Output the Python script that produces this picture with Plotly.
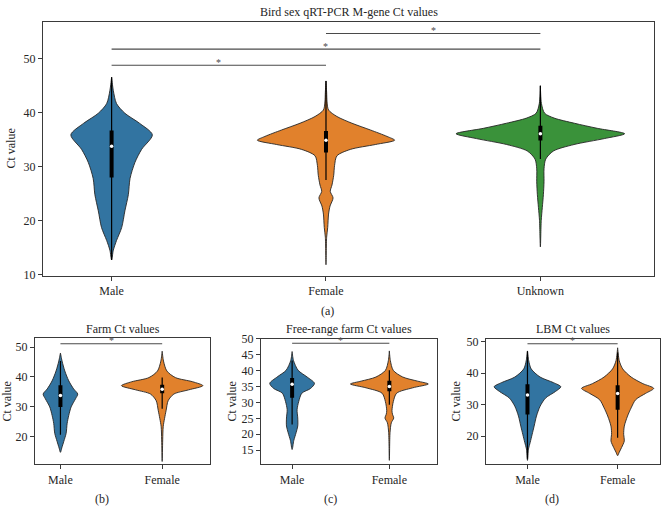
import plotly.graph_objects as go

# ---------------- data ----------------
main_categories = ["Male", "Female", "Unknown"]
sub_categories = ["Male", "Female"]

# violin density profiles: Ct values (bottom tip -> top tip) and half widths (category units)
main_male_ct = [12.7, 14.5, 16.3, 18.7, 21.8, 24.8, 27.8, 30.8, 33.2, 35.9, 38.05, 39.9, 41.7, 44.1, 46.6]
main_male_hw = [0.0, 0.008, 0.023, 0.047, 0.062, 0.078, 0.086, 0.109, 0.14, 0.19, 0.13, 0.062, 0.023, 0.008, 0.0]
main_female_ct = [11.8, 16.9, 18.7, 21.2, 22.7, 24.2, 25.4, 26.6, 28.4, 30.2, 32.0, 33.2, 34.1, 34.9, 35.6, 36.8, 38.05, 39.3, 40.5, 42.0, 43.8, 45.9]
main_female_hw = [0.0, 0.003, 0.008, 0.012, 0.019, 0.033, 0.02, 0.028, 0.036, 0.04, 0.051, 0.114, 0.23, 0.32, 0.285, 0.207, 0.121, 0.051, 0.012, 0.005, 0.003, 0.0]
main_unknown_ct = [15.1, 20.0, 22.4, 24.8, 27.2, 29.6, 31.4, 32.9, 34.1, 35.2, 36.1, 37.1, 38.05, 39.0, 39.9, 41.7, 45.0]
main_unknown_hw = [0.0, 0.004, 0.009, 0.014, 0.017, 0.017, 0.025, 0.061, 0.157, 0.298, 0.393, 0.266, 0.158, 0.065, 0.02, 0.005, 0.0]

farm_male_ct = [14.85, 16.3, 18.5, 21.2, 24.5, 27.2, 30.0, 32.7, 34.3, 36.0, 38.7, 42.0, 45.3, 48.0]
farm_male_hw = [0.0, 0.013, 0.033, 0.056, 0.066, 0.082, 0.105, 0.148, 0.17, 0.13, 0.082, 0.043, 0.016, 0.0]
farm_female_ct = [11.8, 19.0, 23.4, 26.1, 28.9, 32.1, 34.3, 35.7, 37.1, 38.4, 39.8, 42.0, 45.3, 48.6]
farm_female_hw = [0.0, 0.005, 0.01, 0.023, 0.039, 0.059, 0.115, 0.26, 0.40, 0.30, 0.13, 0.046, 0.013, 0.0]

free_male_ct = [15.2, 18.0, 20.5, 22.6, 25.1, 27.7, 30.3, 32.9, 34.4, 36.0, 38.0, 40.1, 43.2, 46.0]
free_male_hw = [0.0, 0.017, 0.041, 0.058, 0.058, 0.051, 0.068, 0.10, 0.19, 0.23, 0.154, 0.062, 0.014, 0.0]
free_female_ct = [11.8, 20.5, 23.6, 25.1, 26.3, 27.4, 30.3, 32.9, 34.6, 35.8, 36.7, 38.0, 40.1, 43.2, 46.2]
free_female_hw = [0.0, 0.007, 0.02, 0.045, 0.032, 0.027, 0.041, 0.075, 0.24, 0.40, 0.29, 0.137, 0.04, 0.01, 0.0]

lbm_male_ct = [12.3, 15.9, 18.0, 20.6, 23.2, 26.4, 29.5, 32.1, 34.2, 35.7, 37.0, 38.8, 41.4, 44.0, 47.1]
lbm_male_hw = [0.0, 0.011, 0.03, 0.052, 0.074, 0.10, 0.14, 0.20, 0.31, 0.37, 0.29, 0.14, 0.041, 0.014, 0.0]
lbm_female_ct = [13.8, 14.9, 16.4, 18.5, 20.6, 23.2, 26.4, 29.0, 31.6, 33.6, 35.2, 36.7, 38.8, 41.4, 44.0, 48.1]
lbm_female_hw = [0.0, 0.018, 0.044, 0.074, 0.067, 0.074, 0.11, 0.15, 0.20, 0.31, 0.40, 0.28, 0.15, 0.056, 0.018, 0.0]

# inner boxes: [lower whisker, q1, median, q3, upper whisker]
main_boxes = [[12.7, 28.0, 33.8, 36.7, 46.6], [27.5, 32.6, 34.9, 36.6, 45.9], [31.4, 34.85, 36.1, 37.6, 45.0]]
farm_boxes = [[20.7, 30.0, 33.8, 37.2, 45.3], [29.4, 34.6, 35.9, 37.4, 39.8]]
free_boxes = [[23.1, 31.5, 35.7, 37.7, 43.2], [29.3, 33.5, 35.0, 36.8, 40.1]]
lbm_boxes = [[12.8, 26.9, 33.1, 36.5, 47.0], [19.5, 28.4, 33.6, 36.2, 46.6]]

# significance brackets: (from category, to category, Ct level)
main_sig = [(0, 1, 48.8), (0, 2, 51.8), (1, 2, 54.7)]
farm_sig = [(0, 1, 51.1)]
free_sig = [(0, 1, 48.6)]
lbm_sig = [(0, 1, 49.4)]

main_ticks = [10, 20, 30, 40, 50]
farm_ticks = [20, 30, 40, 50]
free_ticks = [15, 20, 25, 30, 35, 40, 45, 50]
lbm_ticks = [20, 30, 40, 50]

titles = ["Bird sex qRT-PCR M-gene Ct values", "Farm Ct values", "Free-range farm Ct values", "LBM Ct values"]
panel_labels = ["(a)", "(b)", "(c)", "(d)"]

colors = ["#3274a1", "#e1812c", "#3a923a"]
FONT = "Liberation Serif, DejaVu Serif, serif"
TXT = "#262626"
W, H = 662, 511

fig = go.Figure()


def add_panel(idx, cats, profiles, boxes, sigs):
    xa = "x" if idx == 1 else f"x{idx}"
    ya = "y" if idx == 1 else f"y{idx}"
    for i, (ct, hw) in enumerate(profiles):
        xs = [i + w for w in hw] + [i - w for w in reversed(hw)]
        ys = list(ct) + list(reversed(ct))
        fig.add_trace(go.Scatter(x=xs, y=ys, mode="lines", fill="toself",
                                 fillcolor=colors[i], line=dict(color="#262626", width=0.9, shape="spline", smoothing=0.8),
                                 xaxis=xa, yaxis=ya, hoverinfo="skip", showlegend=False))
    for i, b in enumerate(boxes):
        fig.add_trace(go.Scatter(x=[i, i], y=[b[0], b[4]], mode="lines", line=dict(color="black", width=1.2),
                                 xaxis=xa, yaxis=ya, showlegend=False, hoverinfo="skip"))
        fig.add_trace(go.Scatter(x=[i, i], y=[b[1], b[3]], mode="lines", line=dict(color="black", width=4),
                                 xaxis=xa, yaxis=ya, showlegend=False, hoverinfo="skip"))
        fig.add_trace(go.Scatter(x=[i], y=[b[2]], mode="markers", marker=dict(color="white", size=3.5),
                                 xaxis=xa, yaxis=ya, showlegend=False, hoverinfo="skip"))
    for a, b, lvl in sigs:
        fig.add_trace(go.Scatter(x=[a, b], y=[lvl, lvl], mode="lines", line=dict(color="#4a4a4a", width=1.1),
                                 xaxis=xa, yaxis=ya, showlegend=False, hoverinfo="skip"))
        fig.add_annotation(x=(a + b) / 2, y=lvl, xref=xa, yref=ya, text="*", showarrow=False,
                           yanchor="middle", yshift=3, font=dict(family=FONT, size=10, color="#4a4a4a"))


add_panel(1, main_categories,
          [(main_male_ct, main_male_hw), (main_female_ct, main_female_hw), (main_unknown_ct, main_unknown_hw)],
          main_boxes, main_sig)
add_panel(2, sub_categories, [(farm_male_ct, farm_male_hw), (farm_female_ct, farm_female_hw)], farm_boxes, farm_sig)
add_panel(3, sub_categories, [(free_male_ct, free_male_hw), (free_female_ct, free_female_hw)], free_boxes, free_sig)
add_panel(4, sub_categories, [(lbm_male_ct, lbm_male_hw), (lbm_female_ct, lbm_female_hw)], lbm_boxes, lbm_sig)

# panel frames in pixels: (left, right, top, bottom), x ranges, y ranges
frames = [(43, 654, 16, 276), (35, 210, 340, 469.5), (261, 437, 340.5, 469.5), (486, 660, 341, 469.5)]
xranges = [[-0.32, 2.53], [-0.25, 1.47], [-0.32, 1.49], [-0.46, 1.47]]
yranges = [[9.8, 56.9], [10.8, 53.0], [10.5, 50.1], [11.0, 50.9]]
ticks = [main_ticks, farm_ticks, free_ticks, lbm_ticks]
cats_list = [main_categories, sub_categories, sub_categories, sub_categories]

axis_common = dict(showline=True, linecolor="#3a3a3a", linewidth=1, mirror=True, ticks="outside",
                   ticklen=4, tickcolor="#3a3a3a", showgrid=False, zeroline=False,
                   tickfont=dict(family=FONT, size=12, color=TXT))
layout = {}
for k in range(4):
    l, r, t, b = frames[k]
    sfx = "" if k == 0 else str(k + 1)
    layout["xaxis" + sfx] = dict(axis_common, domain=[l / W, r / W], range=xranges[k],
                                 tickvals=list(range(len(cats_list[k]))), ticktext=cats_list[k],
                                 anchor="y" + sfx)
    layout["yaxis" + sfx] = dict(axis_common, domain=[1 - b / H, 1 - t / H], range=yranges[k],
                                 tickvals=ticks[k], anchor="x" + sfx)

fig.update_layout(width=W, height=H, margin=dict(l=0, r=0, t=0, b=0), plot_bgcolor="white",
                  paper_bgcolor="white", showlegend=False, font=dict(family=FONT, color=TXT, size=12),
                  **layout)

# titles
title_pos = [(348.5, 6), (122.5, 331), (349, 331), (573, 331)]
for txt, (px, py) in zip(titles, title_pos):
    fig.add_annotation(x=px / W, y=1 - py / H, xref="paper", yref="paper", text=txt, showarrow=False,
                       xanchor="center", yanchor="middle", font=dict(family=FONT, size=12, color=TXT))
# panel letters
label_pos = [(327, 312), (102, 505), (330, 505), (552, 505)]
for txt, (px, py) in zip(panel_labels, label_pos):
    fig.add_annotation(x=px / W, y=1 - py / H, xref="paper", yref="paper", text=txt, showarrow=False,
                       xanchor="center", yanchor="middle", font=dict(family=FONT, size=12, color=TXT))
# y axis titles
ylab_pos = [(11, 146), (7, 405), (232, 405), (456, 405)]
for px, py in ylab_pos:
    fig.add_annotation(x=px / W, y=1 - py / H, xref="paper", yref="paper", text="Ct value", showarrow=False,
                       textangle=-90, xanchor="center", yanchor="middle",
                       font=dict(family=FONT, size=12, color=TXT))

fig.write_html("out.html")
